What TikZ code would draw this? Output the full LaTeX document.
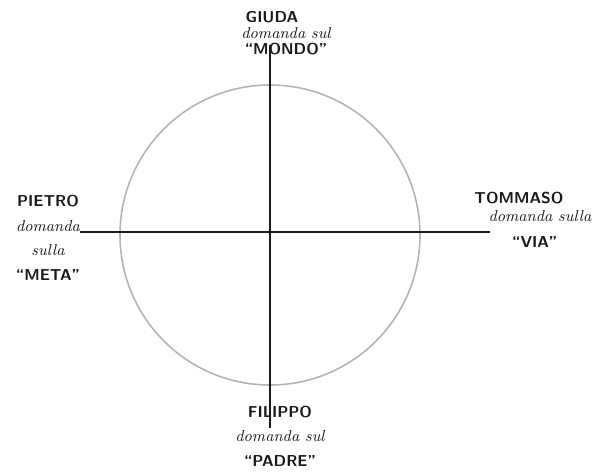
\documentclass[tikz,border=0pt]{standalone}
\usepackage{tikz}
\usetikzlibrary{positioning,calc}
\usepackage{xcolor}
\definecolor{ink}{HTML}{1A1A1A}
\definecolor{pencil}{HTML}{B4B4B4}
\newcommand{\apname}[1]{{\sffamily\bfseries\small #1}}
\newcommand{\apnote}[1]{{\itshape\small #1}}

\begin{document}
\begin{tikzpicture}[x=0.02cm, y=-0.02cm, every node/.style={align=center, text=ink, inner sep=1pt},
  axis/.style={ink, line width=0.8pt}]
  \useasboundingbox (0, 0) rectangle (603, 473);
  % circle and cross
  \coordinate (c) at (270, 235);
  \draw[pencil, line width=0.9pt] (c) circle [radius=150];
  \coordinate (top) at (270, 45);
  \coordinate (bottom) at (270, 428);
  \coordinate (left) at (80, 232);
  \coordinate (right) at (490, 232);
  \draw[axis] (top) -- (bottom);
  \draw[axis] (left) -- (right);
  % labels
  \node (giuda) at (286, 33) {\apname{GIUDA}\hspace*{16pt}\\[-3pt] \apnote{domanda sul}\\[-3pt] \apname{``MONDO''}};
  \node (pietro) at (48, 238) {\apname{PIETRO}\\[2pt] \apnote{domanda}\\[2pt] \apnote{sulla}\\[2pt] \apname{``META''}};
  \node (tommaso) at (540, 220) {\apname{TOMMASO}\hspace*{24pt}\\[-2pt] \apnote{domanda sulla}\\[3pt] \apname{``VIA''}\hspace*{6pt}};
  \node (filippo) at (280, 436) {\apname{FILIPPO}\\[2pt] \apnote{domanda sul}\\[2pt] \apname{``PADRE''}};
\end{tikzpicture}
\end{document}
